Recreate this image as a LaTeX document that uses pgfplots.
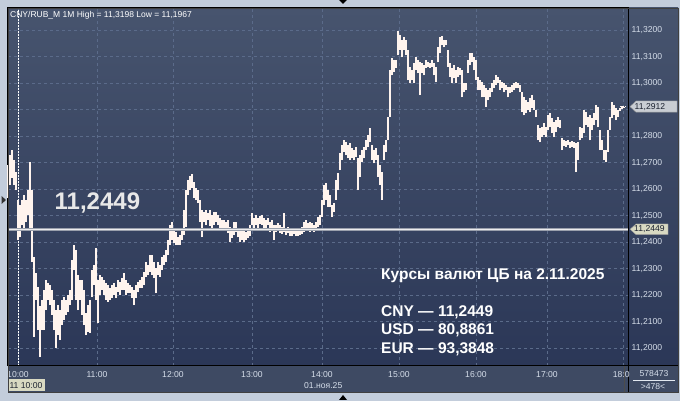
\documentclass[border=0pt]{standalone}
\usepackage{pgfplots}
\pgfplotsset{compat=1.18}
\usepackage{pgfplotstable}
\usepackage{fontspec}
\setmainfont{Liberation Sans}
\definecolor{outer}{HTML}{C3CDDB}
\definecolor{plottop}{HTML}{47546E}
\definecolor{plotbot}{HTML}{2B3757}
\definecolor{bottomc}{HTML}{3E4A63}
\definecolor{gridc}{HTML}{5B6B8A}
\definecolor{tickc}{HTML}{D6DEEA}
\definecolor{barc}{HTML}{FFF4EE}
\definecolor{lineedge}{HTML}{9AA0AC}
\definecolor{linecen}{HTML}{ECECEE}
\definecolor{boxgrey}{HTML}{C9CDD3}
\definecolor{boxbeige}{HTML}{D8D9C2}
\definecolor{boxtext}{HTML}{1C2230}
\definecolor{bigtext}{HTML}{E8E8E8}
\newcommand{\lbl}{\fontsize{8.6}{10}\selectfont}
\pgfplotstableread{
x lo hi
8 11.2566 11.2691
10 11.2616 11.2729
12 11.2642 11.2748
14 11.2616 11.2710
16 11.2597 11.2665
18 11.2408 11.2559
20 11.2419 11.2540
22 11.2465 11.2559
24 11.2446 11.2578
26 11.2476 11.2559
28 11.2502 11.2597
30 11.2446 11.2702
32 11.2325 11.2597
34 11.2043 11.2344
36 11.2182 11.2284
38 11.2069 11.2231
40 11.1967 11.2159
42 11.2069 11.2182
44 11.2069 11.2220
46 11.2144 11.2258
48 11.2182 11.2246
50 11.2163 11.2239
52 11.2126 11.2220
54 11.2069 11.2182
56 11.2001 11.2144
58 11.2050 11.2163
60 11.2031 11.2144
62 11.2088 11.2182
64 11.2107 11.2193
66 11.2126 11.2182
68 11.2137 11.2201
70 11.2163 11.2220
72 11.2182 11.2333
74 11.2295 11.2389
76 11.2182 11.2371
78 11.2144 11.2276
80 11.2182 11.2258
82 11.2126 11.2258
84 11.2088 11.2220
86 11.2050 11.2133
88 11.2061 11.2163
90 11.2057 11.2182
92 11.2193 11.2295
94 11.2239 11.2314
96 11.2182 11.2378
98 11.2095 11.2258
100 11.2201 11.2276
102 11.2220 11.2269
104 11.2201 11.2258
106 11.2182 11.2246
108 11.2175 11.2239
110 11.2182 11.2227
112 11.2190 11.2239
114 11.2201 11.2246
116 11.2190 11.2231
118 11.2212 11.2258
120 11.2201 11.2250
122 11.2220 11.2265
124 11.2220 11.2284
126 11.2201 11.2258
128 11.2208 11.2246
130 11.2208 11.2239
132 11.2190 11.2231
134 11.2163 11.2220
136 11.2190 11.2239
138 11.2212 11.2250
140 11.2227 11.2258
142 11.2227 11.2269
144 11.2239 11.2288
146 11.2269 11.2325
148 11.2276 11.2314
150 11.2288 11.2352
152 11.2276 11.2352
154 11.2265 11.2325
156 11.2208 11.2303
158 11.2276 11.2325
160 11.2269 11.2314
162 11.2295 11.2344
164 11.2314 11.2352
166 11.2325 11.2371
168 11.2352 11.2408
170 11.2389 11.2465
172 11.2408 11.2476
174 11.2397 11.2446
176 11.2389 11.2438
178 11.2389 11.2419
180 11.2389 11.2427
182 11.2408 11.2453
184 11.2427 11.2521
186 11.2457 11.2597
188 11.2578 11.2634
190 11.2597 11.2650
192 11.2604 11.2657
194 11.2567 11.2627
196 11.2559 11.2604
198 11.2548 11.2597
200 11.2476 11.2559
202 11.2419 11.2521
204 11.2476 11.2514
206 11.2465 11.2521
208 11.2484 11.2510
210 11.2461 11.2521
212 11.2453 11.2502
214 11.2465 11.2514
216 11.2476 11.2514
218 11.2465 11.2502
220 11.2446 11.2491
222 11.2453 11.2484
224 11.2446 11.2484
226 11.2446 11.2476
228 11.2435 11.2484
230 11.2400 11.2457
232 11.2416 11.2453
234 11.2427 11.2476
236 11.2438 11.2476
238 11.2419 11.2453
240 11.2400 11.2446
242 11.2408 11.2453
244 11.2400 11.2446
246 11.2408 11.2438
248 11.2416 11.2453
250 11.2423 11.2465
252 11.2465 11.2510
254 11.2453 11.2491
256 11.2465 11.2502
258 11.2446 11.2491
260 11.2469 11.2499
262 11.2465 11.2502
264 11.2446 11.2491
266 11.2453 11.2484
268 11.2465 11.2491
270 11.2438 11.2476
272 11.2453 11.2484
274 11.2408 11.2465
276 11.2438 11.2465
278 11.2446 11.2472
280 11.2435 11.2465
282 11.2431 11.2457
284 11.2438 11.2510
286 11.2427 11.2453
288 11.2435 11.2457
290 11.2423 11.2453
292 11.2423 11.2446
294 11.2431 11.2453
296 11.2423 11.2450
298 11.2423 11.2446
300 11.2427 11.2453
302 11.2431 11.2457
304 11.2438 11.2476
306 11.2446 11.2484
308 11.2446 11.2472
310 11.2438 11.2476
312 11.2446 11.2472
314 11.2438 11.2465
316 11.2446 11.2476
318 11.2457 11.2495
320 11.2465 11.2502
322 11.2495 11.2559
324 11.2540 11.2616
326 11.2559 11.2623
328 11.2533 11.2597
330 11.2533 11.2578
332 11.2495 11.2540
334 11.2514 11.2548
336 11.2559 11.2634
338 11.2597 11.2661
340 11.2672 11.2736
342 11.2710 11.2766
344 11.2740 11.2785
346 11.2729 11.2778
348 11.2717 11.2766
350 11.2710 11.2774
352 11.2717 11.2755
354 11.2710 11.2748
356 11.2721 11.2759
358 11.2597 11.2717
360 11.2646 11.2729
362 11.2702 11.2748
364 11.2717 11.2759
366 11.2748 11.2785
368 11.2759 11.2804
370 11.2778 11.2830
372 11.2710 11.2766
374 11.2698 11.2748
376 11.2710 11.2755
378 11.2646 11.2729
380 11.2616 11.2691
382 11.2559 11.2665
384 11.2710 11.2766
386 11.2740 11.2785
388 11.2785 11.2872
390 11.2872 11.3049
392 11.3030 11.3094
394 11.3042 11.3087
396 11.3057 11.3087
398 11.3106 11.3198
400 11.3125 11.3181
402 11.3098 11.3162
404 11.3125 11.3174
406 11.3106 11.3162
408 11.3011 11.3125
410 11.3000 11.3061
412 11.3011 11.3049
414 11.3000 11.3076
416 11.3049 11.3098
418 11.3038 11.3087
420 11.2955 11.3080
422 11.3038 11.3076
424 11.3030 11.3068
426 11.3057 11.3087
428 11.3061 11.3080
430 11.3057 11.3076
432 11.3061 11.3087
434 11.3030 11.3076
436 11.3004 11.3061
438 11.3079 11.3136
440 11.3113 11.3174
442 11.3143 11.3177
444 11.3136 11.3162
446 11.3143 11.3162
448 11.3061 11.3125
450 11.3023 11.3076
452 11.3000 11.3057
454 11.3019 11.3068
456 11.3000 11.3049
458 11.3023 11.3061
460 11.3030 11.3057
462 11.2947 11.3049
464 11.2966 11.3000
466 11.2974 11.3000
468 11.3038 11.3087
470 11.3068 11.3113
472 11.3079 11.3113
474 11.3049 11.3098
476 11.3011 11.3087
478 11.2974 11.3023
480 11.2974 11.3011
482 11.2947 11.3004
484 11.2947 11.2993
486 11.2910 11.2981
488 11.2936 11.2974
490 11.2947 11.2981
492 11.2966 11.3000
494 11.2981 11.3011
496 11.2993 11.3030
498 11.3000 11.3023
500 11.2974 11.3011
502 11.2981 11.3004
504 11.2966 11.3000
506 11.2974 11.2993
508 11.2947 11.2985
510 11.2962 11.2985
512 11.2966 11.2993
514 11.2974 11.3000
516 11.2981 11.3004
518 11.2981 11.3000
520 11.2966 11.2993
522 11.2891 11.2966
524 11.2879 11.2947
526 11.2887 11.2936
528 11.2898 11.2928
530 11.2891 11.2943
532 11.2906 11.2955
534 11.2898 11.2936
536 11.2872 11.2898
538 11.2785 11.2842
540 11.2778 11.2830
542 11.2797 11.2834
544 11.2804 11.2849
546 11.2797 11.2834
548 11.2823 11.2879
550 11.2834 11.2887
552 11.2812 11.2868
554 11.2797 11.2853
556 11.2815 11.2861
558 11.2834 11.2872
560 11.2830 11.2861
562 11.2748 11.2793
564 11.2763 11.2785
566 11.2759 11.2782
568 11.2766 11.2785
570 11.2755 11.2778
572 11.2759 11.2782
574 11.2755 11.2778
576 11.2665 11.2774
578 11.2710 11.2778
580 11.2785 11.2834
582 11.2793 11.2830
584 11.2812 11.2898
586 11.2842 11.2891
588 11.2834 11.2872
590 11.2785 11.2879
592 11.2823 11.2868
594 11.2842 11.2887
596 11.2861 11.2917
598 11.2834 11.2910
600 11.2748 11.2823
602 11.2748 11.2785
604 11.2710 11.2748
606 11.2702 11.2748
608 11.2740 11.2823
610 11.2823 11.2872
612 11.2868 11.2928
614 11.2879 11.2917
616 11.2861 11.2906
618 11.2872 11.2898
620 11.2895 11.2906
622 11.2902 11.2913
624 11.2906 11.2912
}\bars
\begin{document}
\begin{tikzpicture}[x=1pt,y=1pt]
\useasboundingbox (0pt,0pt) rectangle (680pt,401pt);
\fill[outer] (0pt,0pt) rectangle (680pt,401pt);
\fill[bottomc] (8pt,9pt) rectangle (678pt,35pt);
\shade[top color=plottop, bottom color=plotbot] (628pt,35pt) rectangle (678pt,393pt);
\begin{axis}[
  at={(8pt,35pt)}, anchor=south west,
  scale only axis, width=620pt, height=358pt,
  xmin=8, xmax=628, ymin=11.19332, ymax=11.32842,
  clip=false,
  axis background/.style={shade, top color=plottop, bottom color=plotbot},
  axis line style={draw=black, line width=1pt},
  xtick={18,97,173,252,322,399,476,547,623},
  xticklabels={10:00,11:00,12:00,13:00,14:00,15:00,16:00,17:00,{}},
  ytick={11.20,11.21,11.22,11.23,11.24,11.25,11.26,11.27,11.28,11.29,11.30,11.31,11.32},
  yticklabels={{11,2000},{11,2100},{11,2200},{11,2300},{11,2400},{11,2500},{11,2600},{11,2700},{11,2800},{},{11,3000},{11,3100},{11,3200}},
  yticklabel pos=right,
  major tick length=0pt,
  tick style={draw=none},
  grid=major,
  major grid style={gridc, line width=0.7pt, dash pattern=on 3pt off 3pt},
  yticklabel style={font=\lbl, text=tickc, anchor=west, xshift=0.5pt, inner sep=3pt},
  xticklabel style={font=\lbl, text=tickc, anchor=base, yshift=-11.3pt},
]
\addplot[white, line width=0.8pt, dash pattern=on 1.5pt off 1.5pt] coordinates {(18,11.19332) (18,11.32842)};
\addplot[draw=none, mark=none, forget plot,
  error bars/.cd, y dir=plus, y explicit, error mark=none,
  error bar style={draw=barc, line width=1.1pt}]
  table[x=x, y=lo, y error expr=\thisrow{hi}-\thisrow{lo}] {\bars};
\addplot[lineedge, line width=3.2pt] coordinates {(8,11.2449) (628,11.2449)};
\addplot[linecen, line width=1.3pt] coordinates {(8,11.2449) (628,11.2449)};
\addplot[barc, line width=0.8pt, dash pattern=on 1pt off 1.5pt] coordinates {(620,11.2912) (628,11.2912)};
\end{axis}
% frame lines
\draw[black, line width=1pt] (628pt,9pt) -- (628pt,393pt);
\draw[black, line width=1pt] (8pt,35pt) -- (678pt,35pt);
\draw[black!70, line width=0.7pt] (624.5pt,9pt) -- (624.5pt,35pt);
\draw[black!75, line width=0.8pt] (8pt,9pt) rectangle (678pt,393pt);
% title
\node[anchor=base west, inner sep=0pt, text=white, font=\fontsize{8.5}{10}\selectfont] at (10pt,383.3pt) {CNY/RUB\_M 1M High = 11,3198 Low = 11,1967};
% big level label
\node[anchor=base west, inner sep=0pt, text=bigtext, font=\fontsize{24}{28}\bfseries] at (54.5pt,191pt) {11,2449};
% info block
\begin{scope}[every node/.style={anchor=base west, inner sep=0pt, text=white, font=\fontsize{15.5}{18}\bfseries}]
\node at (381pt,121.7pt) {Курсы валют ЦБ на 2.11.2025};
\node at (381pt,84.3pt) {CNY — 11,2449};
\node at (381pt,66pt) {USD — 80,8861};
\node at (381pt,47pt) {EUR — 93,3848};
\end{scope}
% right price boxes
\fill[boxgrey, draw=black!40, line width=0.4pt] (630pt,294.4pt) -- (636pt,300pt) -- (677pt,300pt) -- (677pt,288.8pt) -- (636pt,288.8pt) -- cycle;
\node[anchor=west, inner sep=0pt, text=boxtext, font=\lbl] at (634.5pt,294.4pt) {11,2912};
\fill[boxbeige, draw=black!40, line width=0.4pt] (630pt,171.7pt) -- (636pt,177pt) -- (668pt,177pt) -- (668pt,166.4pt) -- (636pt,166.4pt) -- cycle;
\node[anchor=west, inner sep=0pt, text=boxtext, font=\lbl] at (634pt,171.7pt) {11,2449};
% bottom axis extras
\node[anchor=base west, inner sep=0pt, text=tickc, font=\lbl] at (612.7pt,23.7pt) {18:0};
\fill[boxbeige] (8.5pt,9.5pt) rectangle (45pt,22pt);
\node[anchor=base west, inner sep=0pt, text=boxtext, font=\lbl] at (9.3pt,12.3pt) {11 10:00};
\node[anchor=base west, inner sep=0pt, text=tickc, font=\lbl] at (304pt,12.3pt) {01.ноя.25};
\node[anchor=base, inner sep=0pt, text=tickc, font=\lbl] at (654pt,24.3pt) {578473};
\draw[tickc!70, line width=0.5pt] (633pt,21pt) -- (675pt,21pt);
\node[anchor=base, inner sep=0pt, text=tickc, font=\lbl] at (653pt,11.7pt) {>478<};
% triangles
\fill[black] (339pt,401pt) -- (347pt,401pt) -- (343pt,397pt) -- cycle;
\fill[black] (339pt,1pt) -- (347pt,1pt) -- (343pt,6pt) -- cycle;
\fill[black!80] (1.5pt,205pt) -- (1.5pt,197pt) -- (6pt,201pt) -- cycle;
\end{tikzpicture}
\end{document}
